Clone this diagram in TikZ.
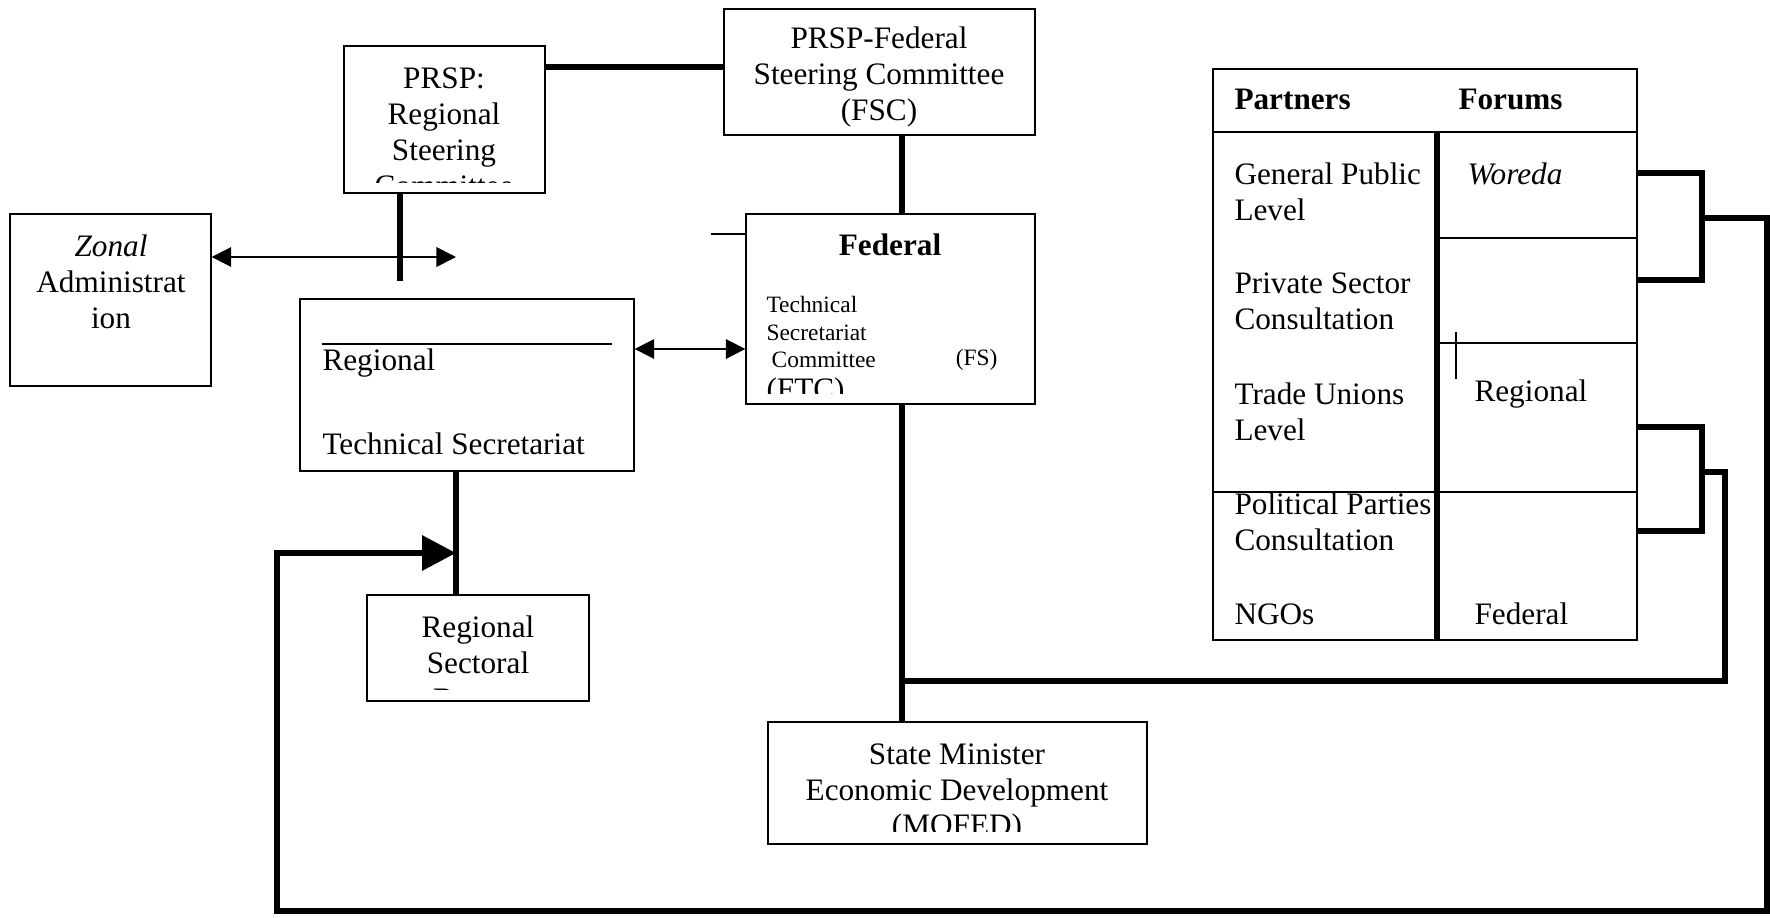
\documentclass[tikz,border=0pt]{standalone}
\usepackage{fontspec}
\setmainfont{Liberation Serif}
\usepackage{tikz}
\usetikzlibrary{arrows.meta,positioning,calc,fit}

\newcommand{\bodysize}{\fontsize{12pt}{13.8pt}\selectfont}
\newcommand{\smallsize}{\fontsize{9pt}{10.5pt}\selectfont}

\begin{document}
\begin{tikzpicture}[
  x=0.0135cm, y=-0.0135cm,
  unit/.style={draw, line width=0.5pt, rectangle, inner sep=0pt},
  txt/.style={font=\bodysize, align=center, inner sep=0pt},
  ltxt/.style={font=\bodysize, align=left, inner sep=0pt, anchor=west},
  tiny/.style={font=\smallsize, align=left, inner sep=0pt},
  link/.style={line width=2.5pt},
  rule/.style={line width=0.5pt},
  dblarr/.style={{Triangle[length=7.5pt,width=7.5pt]}-{Triangle[length=7.5pt,width=7.5pt]}, line width=0.65pt},
  feed/.style={-{Triangle[length=13pt,width=13pt]}, line width=2.5pt}
]
\useasboundingbox (0,0) rectangle (1770,917);

% boxes
\node[unit, fit={(344,46) (545,193)}] (rsc) {};
\node[unit, fit={(724,9) (1035,135)}] (fsc) {};
\node[unit, fit={(746,214) (1035,404)}] (fed) {};
\node[unit, fit={(10,214) (211,386)}] (zonal) {};
\node[unit, fit={(300,299) (634,471)}] (rts) {};
\node[unit, fit={(367,595) (589,701)}] (rsb) {};
\node[unit, fit={(768,722) (1147,844)}] (smin) {};
\node[unit, fit={(1213,69) (1637,640)}] (tbl) {};

% box texts (some cut off by the box)
\begin{scope}
  \clip (344,46) rectangle (545,182);
  \node[txt] (rsctext) at (444,132) {PRSP:\\Regional\\Steering\\Committee};
\end{scope}
\node[txt] (fsctext) at (879,77) {PRSP-Federal\\Steering Committee\\(FSC)};
\node[txt] (zonaltext) at (111,282) {\textit{Zonal}\\Administrat\\ion};
\node[ltxt] (rtsa) at (322,363) {Regional};
\node[ltxt] (rtsb) at (322,444) {Technical Secretariat};
\draw[rule] (322,344) -- (612,344);
\node[txt, font=\bodysize\bfseries] (fedhead) at (890,245) {Federal};
\node[tiny, anchor=west] (fedtext) at (766,332) {Technical\\Secretariat\\\hspace*{2pt}Committee};
\node[tiny, anchor=east] (fedfs) at (998,360) {(FS)};
\begin{scope}
  \clip (746,214) rectangle (1035,393);
  \node[ltxt] (fedftc) at (766,392) {(FTC)};
\end{scope}
\begin{scope}
  \clip (367,595) rectangle (589,689);
  \node[txt] (rsbtext) at (478,663) {Regional\\Sectoral\\Bureau};
\end{scope}
\begin{scope}
  \clip (768,722) rectangle (1147,831);
  \node[txt] (smintext) at (957,793) {State Minister\\Economic Development\\(MOFED)};
\end{scope}

% partners and forums table
\draw[rule] (tbl.west |- 0,132) -- (tbl.east |- 0,132);
\draw[line width=2pt] (1437,132) -- (tbl.south -| 1437,0);
\draw[rule] (1437,238) -- (tbl.east |- 0,238);
\draw[rule] (1437,343) -- (tbl.east |- 0,343);
\draw[rule] (tbl.west |- 0,492) -- (tbl.east |- 0,492);
\draw[rule] (1456,332) -- (1456,379);
\node[ltxt, font=\bodysize\bfseries] (partners) at (1234,99) {Partners};
\node[ltxt, font=\bodysize\bfseries] (forums) at (1458,99) {Forums};
\node[ltxt] (pub) at (1234,192) {General Public\\Level};
\node[ltxt] (priv) at (1234,301) {Private Sector\\Consultation};
\node[ltxt] (trade) at (1234,412) {Trade Unions\\Level};
\node[ltxt] (pol) at (1234,522) {Political Parties\\Consultation};
\node[ltxt] (ngo) at (1234,614) {NGOs};
\node[ltxt] (woreda) at (1467,174) {\textit{Woreda}};
\node[ltxt] (freg) at (1474,394) {Regional};
\node[ltxt] (ffed) at (1474,614) {Federal};

% points used by the connectors
\coordinate (spine) at (902,681);
\coordinate (rscend) at (400,281);
\coordinate (zarr) at (456,257);
\coordinate (tslvl) at (0,349);
\coordinate (fedstub) at (711,234);
\coordinate (rtsx) at (456,553);
\coordinate (b1t) at (1702,173);
\coordinate (b1b) at (1702,280);
\coordinate (b1m) at (1702,218);
\coordinate (rim) at (1767,218);
\coordinate (floor) at (277,911);
\coordinate (b2t) at (1702,427);
\coordinate (b2b) at (1702,531);
\coordinate (b2m) at (1702,472);
\coordinate (b2r) at (1725,472);

% connectors
\draw[link] (fsc.west |- 0,67) -- (rsc.east |- 0,67);
\draw[link] (fsc.south -| spine) -- (fed.north -| spine);
\draw[link] (fed.south -| spine) -- (smin.north -| spine);
\draw[link] (rsc.south -| rscend) -- (rscend);
\draw[dblarr] (zonal.east |- zarr) -- (zarr);
\draw[dblarr] (rts.east |- tslvl) -- (fed.west |- tslvl);
\draw[rule] (fedstub) -- (fedstub -| fed.west);
\draw[link] (rts.south -| rtsx) -- (rsb.north -| rtsx);

% forum brackets and feedback loops
\draw[link] (tbl.east |- b1t) -- (b1t) -- (b1b) -- (tbl.east |- b1b);
\draw[feed] (b1m) -- (rim) |- (floor) |- (rtsx);
\draw[link] (tbl.east |- b2t) -- (b2t) -- (b2b) -- (tbl.east |- b2b);
\draw[link] (b2m) -- (b2r) |- (spine);

\end{tikzpicture}
\end{document}
